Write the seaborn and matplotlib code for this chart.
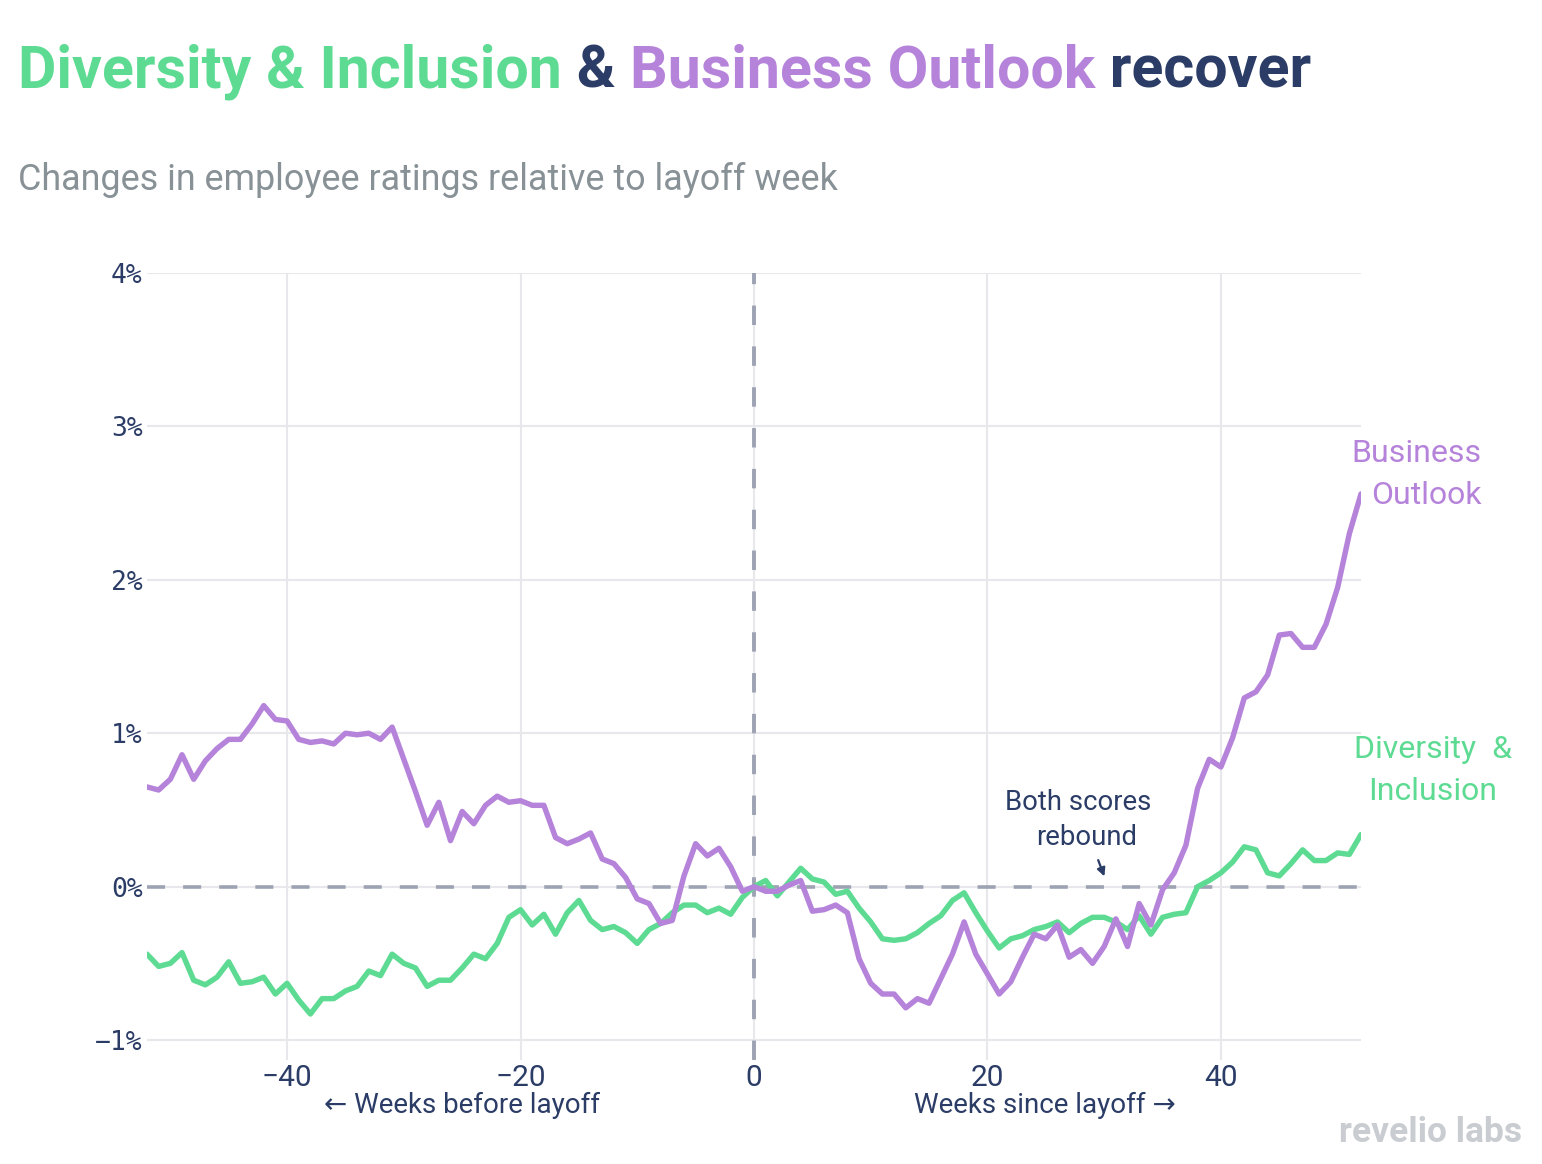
import numpy as np
import pandas as pd
import matplotlib
matplotlib.use("Agg")
import matplotlib.pyplot as plt
import seaborn as sns

# ---------------- data ----------------
weeks = list(range(-52, 53))

business_outlook = [
    0.65, 0.63, 0.70, 0.86, 0.70, 0.82, 0.90, 0.96, 0.96, 1.06,   # -52..-43
    1.18, 1.09, 1.08, 0.96, 0.94, 0.95, 0.93, 1.00, 0.99, 1.00,   # -42..-33
    0.96, 1.04, 0.83, 0.62, 0.40, 0.55, 0.30, 0.49, 0.41, 0.53,   # -32..-23
    0.59, 0.55, 0.56, 0.53, 0.53, 0.32, 0.28, 0.31, 0.35, 0.18,   # -22..-13
    0.15, 0.06, -0.08, -0.11, -0.24, -0.22, 0.07, 0.28, 0.20, 0.25,  # -12..-3
    0.13, -0.03, 0.00, -0.03, -0.03, 0.01, 0.04, -0.16, -0.15, -0.12,  # -2..7
    -0.17, -0.47, -0.63, -0.70, -0.70, -0.79, -0.73, -0.76, -0.60, -0.44,  # 8..17
    -0.23, -0.44, -0.57, -0.70, -0.62, -0.46, -0.31, -0.34, -0.25, -0.46,  # 18..27
    -0.41, -0.50, -0.39, -0.21, -0.39, -0.11, -0.25, -0.02, 0.09, 0.27,  # 28..37
    0.64, 0.83, 0.78, 0.97, 1.23, 1.27, 1.38, 1.64, 1.65, 1.56,   # 38..47
    1.56, 1.71, 1.95, 2.30, 2.56,                                  # 48..52
]

diversity_inclusion = [
    -0.44, -0.52, -0.50, -0.43, -0.61, -0.64, -0.59, -0.49, -0.63, -0.62,  # -52..-43
    -0.59, -0.70, -0.63, -0.74, -0.83, -0.73, -0.73, -0.68, -0.65, -0.55,  # -42..-33
    -0.58, -0.44, -0.50, -0.53, -0.65, -0.61, -0.61, -0.53, -0.44, -0.47,  # -32..-23
    -0.37, -0.20, -0.15, -0.25, -0.18, -0.31, -0.17, -0.09, -0.22, -0.28,  # -22..-13
    -0.26, -0.30, -0.37, -0.28, -0.24, -0.17, -0.12, -0.12, -0.17, -0.14,  # -12..-3
    -0.18, -0.07, 0.00, 0.04, -0.06, 0.03, 0.12, 0.05, 0.03, -0.05,        # -2..7
    -0.03, -0.14, -0.23, -0.34, -0.35, -0.34, -0.30, -0.24, -0.19, -0.09,  # 8..17
    -0.04, -0.17, -0.29, -0.40, -0.34, -0.32, -0.28, -0.26, -0.23, -0.30,  # 18..27
    -0.24, -0.20, -0.20, -0.23, -0.28, -0.19, -0.31, -0.20, -0.18, -0.17,  # 28..37
    0.00, 0.04, 0.09, 0.16, 0.26, 0.24, 0.09, 0.07, 0.15, 0.24,            # 38..47
    0.17, 0.17, 0.22, 0.21, 0.34,                                          # 48..52
]

series_names = ["Diversity & Inclusion", "Business Outlook"]
y_ticks = [-1, 0, 1, 2, 3, 4]
y_tick_labels = ["−1%", "0%", "1%", "2%", "3%", "4%"]
x_ticks = [-40, -20, 0, 20, 40]
x_tick_labels = ["−40", "−20", "0", "20", "40"]

title_parts = [("Diversity & Inclusion", "green"), (" & ", "navy"),
               ("Business Outlook", "purple"), (" recover", "navy")]
subtitle = "Changes in employee ratings relative to layoff week"

# ---------------- style ----------------
GREEN = "#5edb93"
PURPLE = "#b683da"
NAVY = "#2b3c66"
GRAY_TXT = "#879196"
DASH = "#9da3b3"
GRID = "#e7e7ec"
colors = {"green": GREEN, "purple": PURPLE, "navy": NAVY}

sns.set_theme(style="white")
plt.rcParams["font.family"] = ["Roboto", "DejaVu Sans"]

W, H = 1542, 1164
fig = plt.figure(figsize=(W / 100, H / 100), dpi=100)


def fx(px):
    return px / W


def fy(py):
    return 1 - py / H


ax_left, ax_right, ax_top, ax_bottom = 147, 1361, 273, 1060
ax = fig.add_axes([fx(ax_left), fy(ax_bottom), fx(ax_right) - fx(ax_left), fy(ax_top) - fy(ax_bottom)])

df = pd.DataFrame({
    "week": weeks * 2,
    "value": diversity_inclusion + business_outlook,
    "series": [series_names[0]] * len(weeks) + [series_names[1]] * len(weeks),
})

# grid
ax.set_axisbelow(True)
for t in y_ticks:
    ax.axhline(t, color=GRID, lw=1.5, zorder=0)
for t in x_ticks:
    ax.axvline(t, color=GRID, lw=1.5, zorder=0)

# dashed reference lines
ax.axhline(0, color=DASH, lw=2.6, ls=(0, (5, 5)), zorder=1)
ax.axvline(0, color=DASH, lw=2.8, ls=(0, (5, 5.5)), zorder=1)

sns.lineplot(data=df, x="week", y="value", hue="series",
             palette={series_names[0]: GREEN, series_names[1]: PURPLE},
             linewidth=3.9, legend=False, ax=ax, zorder=3)

ax.set_xlim(-52, 52)
ax.set_ylim(-1.13, 4.0)
ax.set_xticks(x_ticks)
ax.set_xticklabels(x_tick_labels, fontsize=21.5, color=NAVY, family=["Roboto", "DejaVu Sans"])
ax.set_yticks(y_ticks)
ax.set_yticklabels(y_tick_labels, fontsize=19, color=NAVY, family=["DejaVu Sans Mono", "DejaVu Sans"])
ax.tick_params(axis="both", length=0)
ax.tick_params(axis="y", pad=3)
ax.tick_params(axis="x", pad=3)
ax.set_xlabel("")
ax.set_ylabel("")
for s in ax.spines.values():
    s.set_visible(False)

# ---------------- title (multi-colour) ----------------
fig.canvas.draw()
renderer = fig.canvas.get_renderer()
x_cur = 18
for txt, c in title_parts:
    t = fig.text(fx(x_cur), fy(88), txt, fontsize=42.6, fontweight="bold",
                 color=colors[c], ha="left", va="baseline")
    bb = t.get_window_extent(renderer=renderer)
    x_cur += bb.width

fig.text(fx(18), fy(190), subtitle, fontsize=25.8, color=GRAY_TXT, ha="left", va="baseline")

# ---------------- annotations ----------------
fig.text(fx(1482), fy(462), "Business", fontsize=23, color=PURPLE, ha="right", va="baseline")
fig.text(fx(1482), fy(504), "Outlook", fontsize=23, color=PURPLE, ha="right", va="baseline")
fig.text(fx(1433), fy(758), "Diversity  &", fontsize=23, color=GREEN, ha="center", va="baseline")
fig.text(fx(1433), fy(800), "Inclusion", fontsize=23, color=GREEN, ha="center", va="baseline")

fig.text(fx(1078), fy(810), "Both scores", fontsize=19.8, color=NAVY, ha="center", va="baseline")
fig.text(fx(1087), fy(845), "rebound", fontsize=19.8, color=NAVY, ha="center", va="baseline")
ax.annotate("", xy=(30.1, 0.05), xytext=(29.4, 0.19),
            arrowprops=dict(arrowstyle="-|>", color=NAVY, lw=1.6, mutation_scale=12))

fig.text(fx(462), fy(1113), "← Weeks before layoff", fontsize=20, color=NAVY, ha="center", va="baseline")
fig.text(fx(1045), fy(1113), "Weeks since layoff →", fontsize=20, color=NAVY, ha="center", va="baseline")

fig.text(fx(1522), fy(1142), "revelio labs", fontsize=25.5, fontweight="bold", color="#c9ccd0",
         ha="right", va="baseline")

fig.savefig("out.png", dpi=100)
